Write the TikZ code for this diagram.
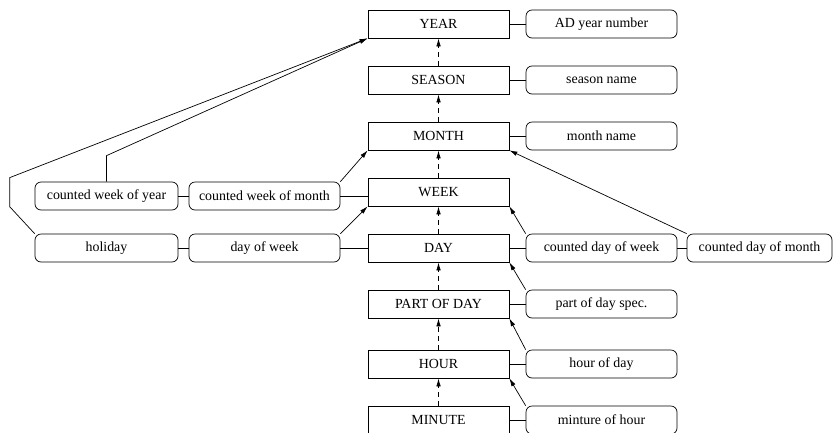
\documentclass[tikz,border=0pt]{standalone}
\usepackage{fontspec}
\setmainfont{Liberation Serif}
\usetikzlibrary{arrows.meta}

\tikzset{
	unit/.style={draw,rectangle,minimum width=141pt,minimum height=28pt,inner sep=0pt},
	attr/.style={draw,rectangle,rounded corners=6pt,minimum width=151pt,minimum height=28pt,inner sep=0pt},
	arr/.style={-{Latex[length=8pt,width=4.5pt]}},
	dasharr/.style={arr,dash pattern=on 5pt off 4pt}
}

\begin{document}
\begin{tikzpicture}[x=1pt,y=-1pt,line width=0.7pt,font=\fontsize{13.9}{16}\selectfont]
	\useasboundingbox (0,0) rectangle (833,432);
	% time units
	\node[unit] (year) at (438.5,24) {YEAR};
	\node[unit] (season) at (438.5,80) {SEASON};
	\node[unit] (month) at (438.5,136) {MONTH};
	\node[unit] (week) at (438.5,192) {WEEK};
	\node[unit] (day) at (438.5,248) {DAY};
	\node[unit] (partday) at (438.5,304) {PART OF DAY};
	\node[unit] (hour) at (438.5,364) {HOUR};
	\node[unit] (minute) at (438.5,420) {MINUTE};
	% attributes
	\node[attr] (adyear) at (601.5,24) {AD year number};
	\node[attr] (seasonname) at (601.5,80) {season name};
	\node[attr] (monthname) at (601.5,136) {month name};
	\node[attr] (cdweek) at (601.5,248) {counted day of week};
	\node[attr,minimum width=145pt] (cdmonth) at (759.5,248) {counted day of month};
	\node[attr] (partspec) at (601.5,304) {part of day spec.};
	\node[attr] (hourday) at (601.5,364) {hour of day};
	\node[attr] (minhour) at (601.5,420) {minture of hour};
	\node[attr,minimum width=143pt] (cwyear) at (106.5,196) {counted week of year};
	\node[attr] (cwmonth) at (264.5,196) {counted week of month};
	\node[attr,minimum width=143pt] (holiday) at (106.5,248) {holiday};
	\node[attr] (dayweek) at (264.5,248) {day of week};

	\foreach \a/\b in {season/year,month/season,week/month,day/week,partday/day,hour/partday,minute/hour}
		\draw[dasharr] (\a.north) -- (\b.south);
	\foreach \a/\b in {year/adyear,season/seasonname,month/monthname,day/cdweek,cdweek/cdmonth,partday/partspec,hour/hourday,minute/minhour,cwyear/cwmonth,holiday/dayweek,dayweek/day}
		\draw (\a) -- (\b);
	\draw (cwmonth.east) -- (cwmonth.east -| week.west);

	\draw[arr] (cdweek.north west) -- (week.south east);
	\draw[arr] (cdmonth.north west) -- (month.south east);
	\draw[arr] (partspec.north west) -- (day.south east);
	\draw[arr] (hourday.north west) -- (partday.south east);
	\draw[arr] (minhour.north west) -- (hour.south east);
	\draw[arr] (cwmonth.north east) -- (month.south west);
	\draw[arr] (dayweek.north east) -- (week.south west);
	\draw[arr] (cwyear.north) -- ++(0,-26) -- (year.south west);
	\draw[arr] (holiday.north west) -- ++(-25,-27) -- ++(0,-29) -- (year.south west);
\end{tikzpicture}
\end{document}
